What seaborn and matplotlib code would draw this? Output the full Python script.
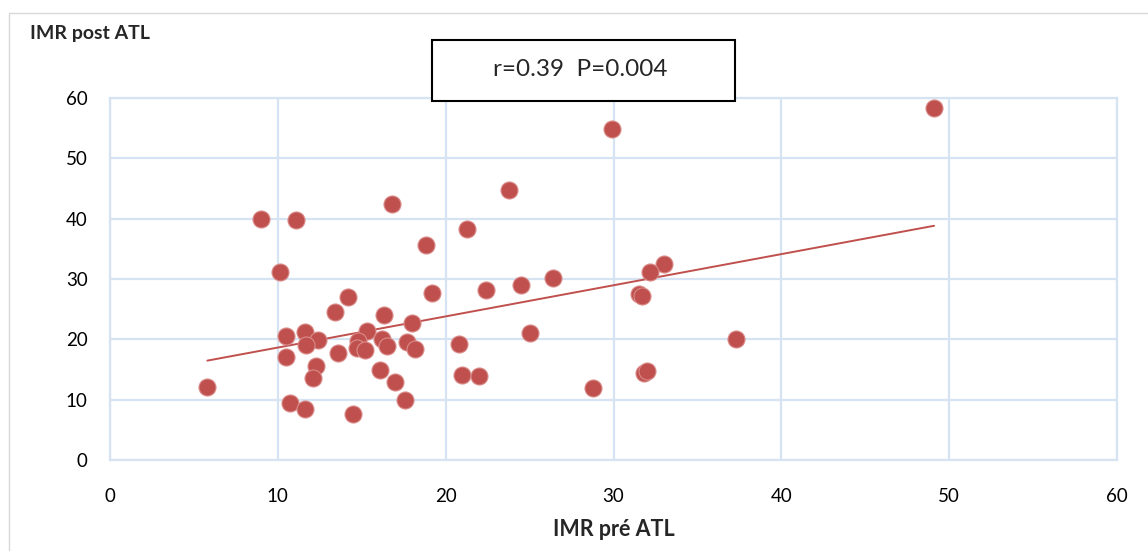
import matplotlib
matplotlib.use("Agg")
import matplotlib.pyplot as plt
import seaborn as sns
from matplotlib.patches import Rectangle

# IMR before / after ATL
imr_pre = [5.8, 9.0, 11.1, 10.1, 16.8, 18.8, 21.3, 14.2, 13.4, 19.2, 16.3, 18.0,
           10.5, 11.6, 12.4, 11.7, 15.3, 14.8, 14.7, 15.2, 16.2, 16.5, 17.7, 18.2,
           13.6, 10.5, 12.3, 12.1, 16.1, 17.0, 17.6, 10.7, 11.6, 14.5, 20.8, 21.0,
           22.0, 29.9, 23.8, 22.4, 24.5, 26.4, 33.0, 32.2, 31.5, 31.7, 25.0, 31.8,
           32.0, 28.8, 37.3, 49.1]
imr_post = [12.1, 39.9, 39.7, 31.2, 42.4, 35.6, 38.3, 27.0, 24.6, 27.6, 24.1, 22.7,
            20.6, 21.2, 19.9, 19.1, 21.3, 19.8, 18.6, 18.2, 20.1, 18.9, 19.6, 18.4,
            17.7, 17.0, 15.6, 13.6, 14.9, 12.9, 10.0, 9.5, 8.5, 7.7, 19.3, 14.1,
            14.0, 54.8, 44.7, 28.1, 29.0, 30.1, 32.5, 31.1, 27.5, 27.1, 21.0, 14.5,
            14.7, 11.9, 20.0, 58.4]

ticks = [0, 10, 20, 30, 40, 50, 60]
stats_text = "r=0.39  P=0.004"

sns.set_style("white")
plt.rcParams["font.family"] = ["Lato", "DejaVu Sans"]

grid_col = "#D6E3F3"
red = "#C0504D"

fig = plt.figure(figsize=(11.48, 5.51), dpi=100)
W, H = 1148, 551
ax = fig.add_axes([110 / W, 1 - 460 / H, (1117 - 110) / W, (460 - 98) / H])

sns.regplot(x=imr_pre, y=imr_post, ax=ax, ci=None, truncate=True, color=red,
            scatter_kws=dict(s=150, edgecolor="#D98C8A", linewidths=0.8, alpha=1, zorder=3),
            line_kws=dict(lw=1.4, zorder=2))

ax.set_xlim(0, 60)
ax.set_ylim(0, 60)
ax.set_xticks(ticks)
ax.set_yticks(ticks)
ax.grid(True, color=grid_col, lw=1.6, zorder=0)
ax.set_axisbelow(True)
for s in ax.spines.values():
    s.set_color(grid_col)
    s.set_linewidth(1.6)
ax.tick_params(axis="both", length=0, labelsize=13.5, colors="black")
ax.tick_params(axis="x", pad=20)
ax.tick_params(axis="y", pad=16)

fig.text(30 / W, 1 - 33 / H, "IMR post ATL", fontsize=14, fontweight="bold",
         ha="left", va="center")
fig.text(614 / W, 1 - 530 / H, "IMR pré ATL", fontsize=15.5, fontweight="bold",
         ha="center", va="center")

# stats box
fig.patches.append(Rectangle((432 / W, 1 - 101 / H), (735 - 432) / W, (101 - 40) / H,
                             transform=fig.transFigure, fill=True, facecolor="white",
                             edgecolor="black", lw=1.5, zorder=5))
fig.text(580 / W, 1 - 69 / H, stats_text, fontsize=17.5, ha="center", va="center", zorder=6)

# outer chart frame
fig.patches.append(Rectangle((9 / W, -0.05), 1.1, 1 - 13 / H + 0.05,
                             transform=fig.transFigure, fill=False,
                             edgecolor="#D9D9D9", lw=1.0))

fig.savefig("out.png", dpi=100)
